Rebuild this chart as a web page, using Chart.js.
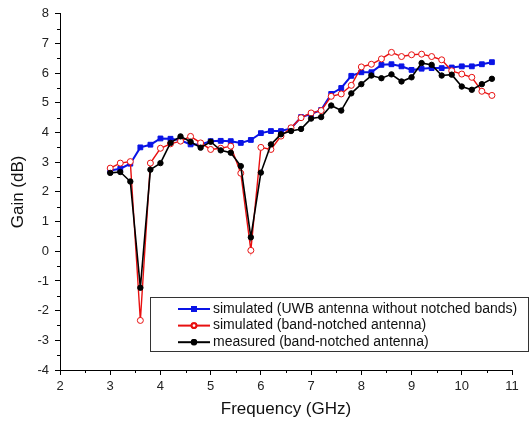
<!DOCTYPE html>
<html>
<head>
<meta charset="utf-8">
<script src="https://cdn.jsdelivr.net/npm/chart.js@4/dist/chart.umd.min.js"></script>
<style>
  html, body { margin: 0; padding: 0; background: #fff; }
  #grafico { display: block; }
</style>
</head>
<body>
<canvas id="grafico" width="530" height="425"></canvas>
<script>
'use strict';

// Frecuencias en GHz (paso de 0.2)
const frecuencias = [
    3.0, 3.2, 3.4, 3.6, 3.8, 4.0, 4.2, 4.4, 4.6, 4.8,
    5.0, 5.2, 5.4, 5.6, 5.8, 6.0, 6.2, 6.4, 6.6, 6.8,
    7.0, 7.2, 7.4, 7.6, 7.8, 8.0, 8.2, 8.4, 8.6, 8.8,
    9.0, 9.2, 9.4, 9.6, 9.8, 10.0, 10.2, 10.4, 10.6,
];

const gananciaUWB = [
    2.72, 2.78, 2.95, 3.50, 3.59, 3.80, 3.79, 3.74, 3.60, 3.60,
    3.71, 3.72, 3.71, 3.65, 3.75, 3.98, 4.05, 4.05, 4.14, 4.52,
    4.62, 4.76, 5.30, 5.50, 5.91, 6.03, 6.03, 6.28, 6.30, 6.23,
    6.11, 6.15, 6.17, 6.17, 6.19, 6.23, 6.23, 6.30, 6.37,
];

const gananciaNotchSim = [
    2.80, 2.97, 3.02, -2.33, 2.97, 3.47, 3.62, 3.71, 3.87, 3.65,
    3.43, 3.47, 3.54, 2.63, 0.03, 3.50, 3.43, 3.88, 4.16, 4.50,
    4.66, 4.74, 5.22, 5.30, 5.59, 6.21, 6.30, 6.48, 6.70, 6.56,
    6.62, 6.64, 6.56, 6.45, 6.08, 5.97, 5.86, 5.39, 5.25,
];

const gananciaMedida = [
    2.64, 2.67, 2.35, -1.23, 2.75, 2.97, 3.65, 3.87, 3.69, 3.49,
    3.69, 3.40, 3.32, 2.87, 0.47, 2.65, 3.60, 3.94, 4.05, 4.12,
    4.47, 4.52, 4.91, 4.74, 5.32, 5.63, 5.92, 5.83, 5.96, 5.72,
    5.86, 6.34, 6.28, 5.92, 5.95, 5.55, 5.44, 5.63, 5.81,
];

const etiquetas = [
    'simulated (UWB antenna without notched bands)',
    'simulated (band-notched antenna)',
    'measured (band-notched antenna)',
];

const FUENTE = "'Liberation Sans', Arial, sans-serif";

const puntos = (valores) => valores.map((y, i) => ({ x: frecuencias[i], y }));

// ticks menores (cada 0.5) por fuera de los ejes
const ticksMenores = {
    id: 'ticksMenores',
    afterDraw(chart) {
        const { ctx, scales: { x, y } } = chart;
        ctx.save();
        ctx.strokeStyle = '#000';
        ctx.lineWidth = 1;
        ctx.beginPath();
        for (let v = x.min + 0.5; v < x.max; v += 1) {
            const px = Math.round(x.getPixelForValue(v)) + 0.5;
            ctx.moveTo(px, x.top);
            ctx.lineTo(px, x.top + 3);
        }
        for (let v = y.min + 0.5; v < y.max; v += 1) {
            const py = Math.round(y.getPixelForValue(v)) + 0.5;
            ctx.moveTo(y.right, py);
            ctx.lineTo(y.right - 3, py);
        }
        ctx.stroke();
        ctx.restore();
    },
};

// leyenda con recuadro dentro del área del gráfico
const leyendaCaja = {
    id: 'leyendaCaja',
    afterDraw(chart) {
        const { ctx } = chart;
        const caja = { x: 150.5, y: 297.5, w: 378, h: 54 };
        ctx.save();
        ctx.fillStyle = '#fff';
        ctx.fillRect(caja.x, caja.y, caja.w, caja.h);
        ctx.strokeStyle = '#333';
        ctx.lineWidth = 1;
        ctx.strokeRect(caja.x, caja.y, caja.w, caja.h);

        ctx.font = `14px ${FUENTE}`;
        ctx.textBaseline = 'middle';
        chart.data.datasets.forEach((ds, i) => {
            const yy = 309 + i * 16.6;
            ctx.strokeStyle = ds.borderColor;
            ctx.lineWidth = 2;
            ctx.beginPath();
            ctx.moveTo(178, yy);
            ctx.lineTo(210, yy);
            ctx.stroke();
            Chart.helpers.drawPoint(ctx, {
                pointStyle: ds.pointStyle,
                radius: ds.pointRadius * 0.8,
                borderWidth: 1,
            }, 194, yy);
            ctx.fillStyle = ds.pointBackgroundColor;
            ctx.strokeStyle = ds.pointBorderColor;
            ctx.fill();
            ctx.stroke();
            ctx.fillStyle = '#111';
            ctx.fillText(etiquetas[i], 213, yy);
        });
        ctx.restore();
    },
};

const escalaBase = {
    type: 'linear',
    border: { display: true, color: '#000', width: 1 },
    grid: { drawOnChartArea: false, drawTicks: true, tickLength: 5, color: '#000' },
    ticks: { color: '#222', font: { family: FUENTE, size: 13 }, stepSize: 1, padding: 4 },
    title: { display: true, color: '#111', font: { family: FUENTE, size: 17 } },
};

new Chart(document.getElementById('grafico'), {
    type: 'line',
    data: {
        datasets: [
            {
                label: etiquetas[0],
                data: puntos(gananciaUWB),
                borderColor: '#0a14e6',
                backgroundColor: '#0a14e6',
                pointBackgroundColor: '#0a14e6',
                pointBorderColor: '#0a14e6',
                pointStyle: 'rect',
                pointRadius: 3.4,
                pointBorderWidth: 1,
                borderWidth: 2,
                order: 2,
            },
            {
                label: etiquetas[1],
                data: puntos(gananciaNotchSim),
                borderColor: '#e81010',
                backgroundColor: '#fff',
                pointBackgroundColor: '#fff',
                pointBorderColor: '#e81010',
                pointStyle: 'circle',
                pointRadius: 3,
                pointBorderWidth: 1,
                borderWidth: 1.4,
                order: 1,
            },
            {
                label: etiquetas[2],
                data: puntos(gananciaMedida),
                borderColor: '#000',
                backgroundColor: '#000',
                pointBackgroundColor: '#000',
                pointBorderColor: '#000',
                pointStyle: 'circle',
                pointRadius: 2.7,
                pointBorderWidth: 1,
                borderWidth: 1.6,
                order: 0,
            },
        ],
    },
    options: {
        responsive: false,
        animation: false,
        devicePixelRatio: 1,
        layout: { padding: { top: 12, right: 18, left: 0, bottom: 0 } },
        plugins: { legend: { display: false }, tooltip: { enabled: false } },
        scales: {
            x: {
                ...escalaBase,
                min: 2,
                max: 11,
                title: { ...escalaBase.title, text: 'Frequency (GHz)', padding: { top: 4, bottom: 5 } },
                afterFit: (s) => { s.height = 55; },
            },
            y: {
                ...escalaBase,
                min: -4,
                max: 8,
                ticks: { ...escalaBase.ticks, padding: 6 },
                title: { ...escalaBase.title, text: 'Gain (dB)', padding: { top: 8, bottom: 4 } },
                afterFit: (s) => { s.width = 60; },
            },
        },
    },
    plugins: [ticksMenores, leyendaCaja],
});
</script>
</body>
</html>
